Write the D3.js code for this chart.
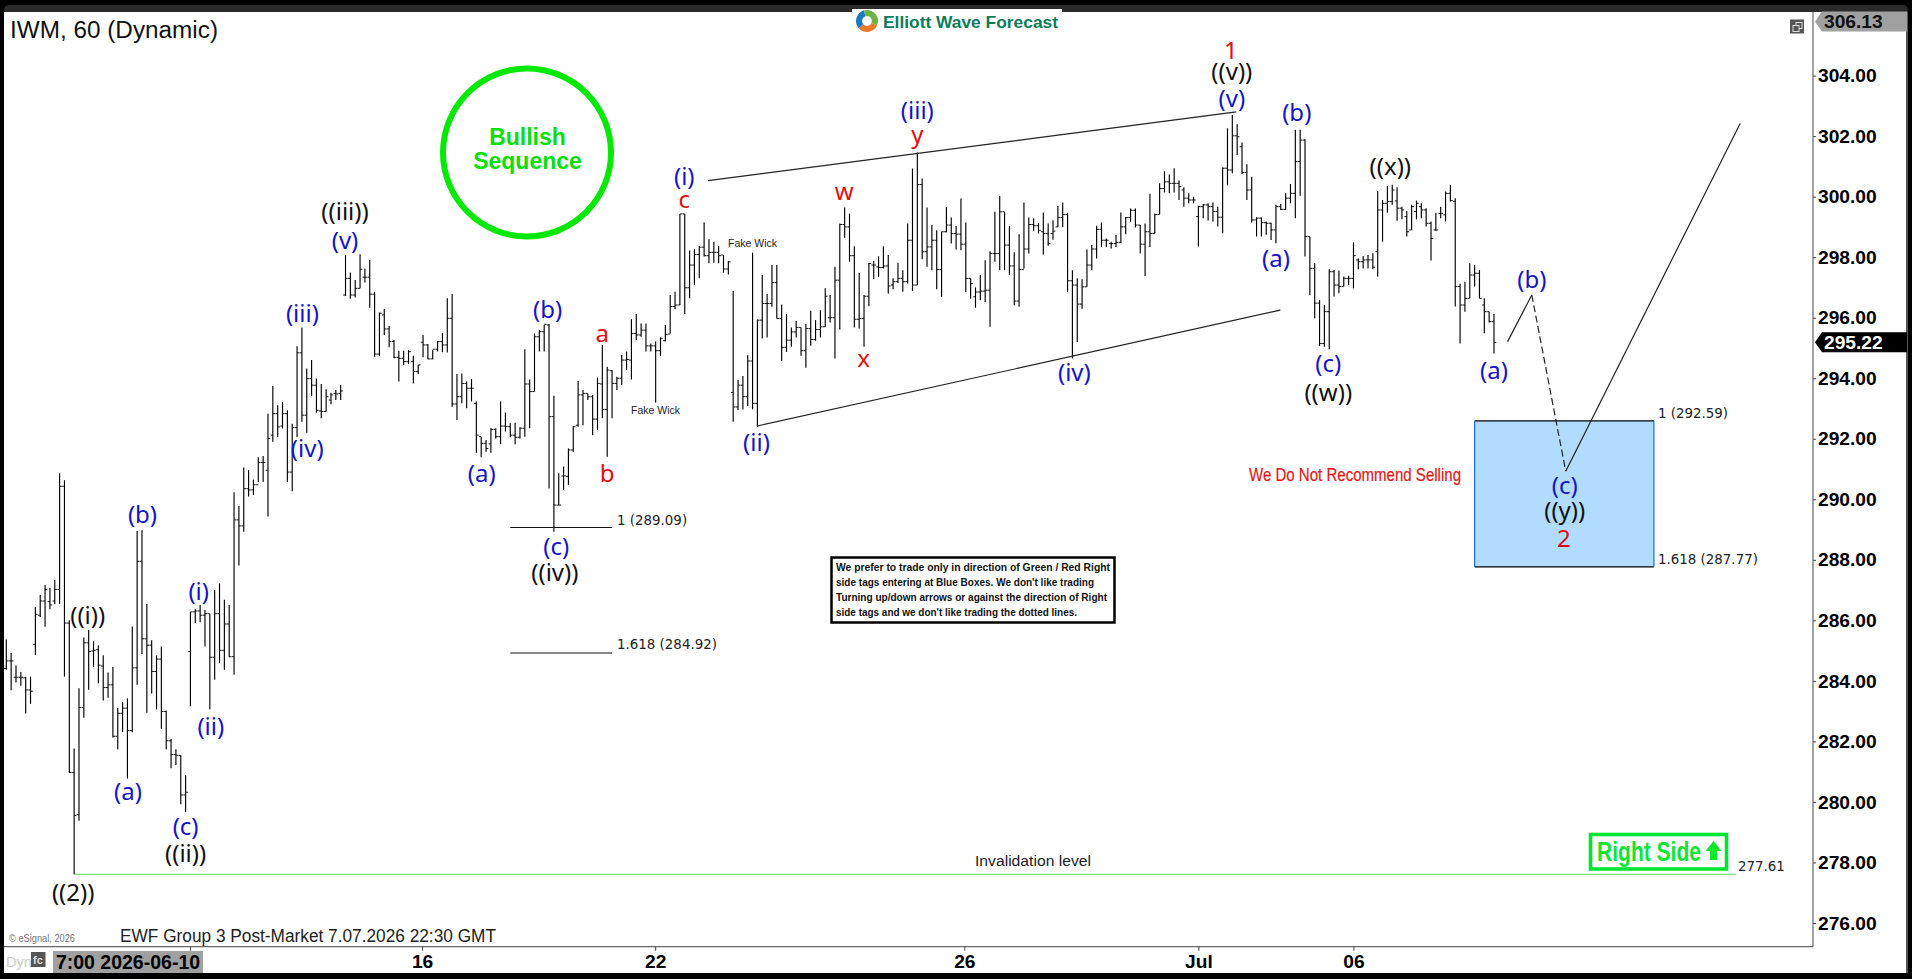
<!DOCTYPE html>
<html><head><meta charset="utf-8">
<script src="https://cdn.jsdelivr.net/npm/d3@7/dist/d3.min.js"></script>
<style>html,body{margin:0;padding:0;background:#000;overflow:hidden}svg{display:block}text{font-family:"Liberation Sans",Arial,sans-serif}</style>
</head><body><svg id="c" width="1912" height="979"></svg>
<script>
const symbolTitle = "IWM, 60 (Dynamic)";
const yTickValues = [276,278,280,282,284,286,288,290,292,294,296,298,300,302,304];
const xTickBars = [85.8,133.9,197.7,246,278];
const xTickLabels = ["16","22","26","Jul","06"];
const highs = [285.37,284.92,284.51,284.29,284.14,284.14,286.43,286.84,287.17,287.08,287.33,290.86,290.63,286.00,281.77,283.76,285.43,285.68,285.31,285.18,284.85,284.28,284.46,283.10,283.30,283.42,285.80,288.95,288.98,286.54,285.34,284.84,285.14,283.02,282.08,281.74,281.54,280.88,286.28,286.37,286.51,286.34,286.22,287.00,287.22,286.68,286.51,290.23,289.78,291.05,290.96,290.65,291.39,291.43,292.83,293.74,293.11,293.21,292.94,292.50,295.06,295.68,294.32,294.60,293.99,293.81,293.64,293.52,293.61,293.78,298.07,297.49,297.25,298.10,297.63,297.91,296.86,296.17,296.29,295.73,295.26,294.91,294.91,294.93,294.74,294.44,295.43,295.13,294.93,295.23,295.49,296.64,296.78,294.14,294.16,293.89,293.98,293.23,292.07,291.96,292.35,292.35,293.23,292.87,292.51,292.53,292.38,294.96,293.96,295.48,295.59,295.76,295.79,293.42,290.86,291.08,291.68,292.42,293.91,293.61,293.50,293.45,294.02,295.10,294.38,294.27,294.05,294.77,294.88,295.95,296.12,295.81,295.81,295.15,295.21,295.35,295.76,296.75,296.86,299.43,299.43,298.22,298.26,298.37,299.15,298.59,298.51,298.37,298.07,297.87,296.88,293.94,294.07,294.76,298.15,295.94,297.41,296.78,297.74,297.74,296.44,296.12,295.68,295.89,295.68,295.79,296.23,295.92,296.25,296.97,296.75,297.68,299.11,299.64,299.44,298.36,297.48,296.75,297.81,297.87,298.03,298.36,298.07,297.30,297.82,297.57,299.11,300.93,301.46,300.60,299.64,299.06,298.89,298.84,299.66,299.31,299.03,299.94,299.15,297.30,297.00,297.41,297.90,298.20,299.50,300.02,299.50,299.03,298.16,298.76,299.81,299.31,299.28,299.13,299.48,299.11,299.22,299.69,299.81,299.47,297.57,297.30,297.27,298.25,298.40,299.04,299.15,298.62,298.51,298.73,299.48,299.33,299.61,299.61,299.06,299.11,300.10,299.44,300.44,300.84,300.73,300.94,300.53,300.31,300.11,300.00,299.70,299.76,299.78,299.81,299.67,300.96,302.26,302.70,302.39,301.79,301.07,300.66,299.32,299.31,299.18,299.14,299.73,299.76,300.11,300.42,302.21,302.21,301.90,298.68,297.80,296.59,296.42,297.60,297.58,297.56,297.36,297.39,298.49,297.96,298.04,298.07,298.13,300.19,299.89,300.35,300.39,300.31,299.67,299.53,299.73,299.87,299.78,299.62,299.18,299.47,299.67,300.17,300.39,299.95,297.12,297.19,297.80,297.74,297.58,296.64,296.20,296.12];
const lows = [284.37,283.69,283.95,283.84,282.92,283.24,284.86,286.11,285.79,286.37,286.53,286.55,284.14,280.96,277.61,279.38,282.78,283.71,284.46,283.92,283.35,283.44,282.13,281.74,282.30,280.77,282.30,283.87,284.89,282.95,283.58,283.06,282.42,281.74,281.11,281.22,279.92,279.66,283.16,285.91,285.94,285.14,283.06,284.04,284.58,284.37,284.78,284.20,287.81,288.93,290.09,290.14,290.57,290.57,289.43,291.90,292.06,292.34,290.57,290.27,292.06,292.56,292.20,293.41,292.86,292.68,292.90,293.14,293.28,293.28,296.72,296.63,296.67,296.97,297.16,296.33,294.71,294.74,295.43,295.02,294.66,293.89,294.44,294.47,293.83,294.14,294.69,294.63,294.63,294.88,294.86,294.85,293.06,292.62,293.17,293.01,293.23,291.54,291.39,291.57,291.54,292.01,291.82,292.24,292.05,291.82,292.01,292.07,292.35,293.56,294.88,294.88,290.36,288.93,289.81,290.31,290.47,291.57,292.40,292.45,293.28,292.12,292.29,292.68,291.41,292.68,293.61,293.78,294.27,293.96,295.26,295.37,294.88,294.88,293.19,294.74,295.21,295.48,296.28,296.42,296.12,296.64,297.08,297.30,298.02,297.80,297.82,297.80,297.49,297.43,292.56,292.94,292.97,293.08,292.97,292.39,295.31,295.35,296.36,295.97,294.57,294.87,295.04,295.35,294.74,294.35,295.07,295.24,295.35,295.70,295.84,294.65,295.61,298.64,297.85,295.68,295.64,295.04,296.38,297.27,297.35,297.63,296.80,296.94,297.15,296.86,297.13,296.88,297.08,297.93,297.68,297.57,296.94,296.69,298.82,298.45,298.25,298.23,296.85,296.63,296.33,296.58,296.52,295.70,297.85,297.57,297.57,297.41,296.41,296.36,297.63,298.12,298.87,298.78,298.09,298.38,298.58,299.00,299.00,296.85,294.65,295.20,296.30,297.02,297.57,297.96,298.34,298.34,298.29,298.34,298.47,298.76,299.17,298.98,298.12,297.38,298.34,298.78,299.42,300.14,300.11,300.14,299.89,299.67,299.78,299.78,298.35,299.29,299.21,299.18,299.01,298.79,300.37,300.77,301.38,300.75,299.89,299.15,298.68,298.68,298.74,298.57,298.46,299.56,299.56,299.78,299.29,300.03,298.02,296.75,295.98,295.07,295.04,294.96,296.70,296.81,297.03,297.08,296.97,297.60,297.63,297.63,297.60,297.36,298.51,299.47,299.73,299.20,299.25,298.68,298.90,299.25,299.29,299.01,297.89,298.87,299.29,299.18,299.84,296.37,295.15,296.20,296.64,297.03,296.64,295.49,295.84,294.82];
const opens = [284.41,284.66,284.12,284.12,284.10,283.70,285.21,286.17,286.64,286.62,286.64,287.02,290.43,285.91,280.97,279.58,283.12,285.26,284.99,285.03,284.49,283.78,283.87,282.17,282.93,283.10,282.36,284.43,287.95,285.39,285.18,284.31,284.72,282.99,282.02,281.57,281.54,280.23,284.97,286.28,286.31,286.17,286.22,284.78,286.22,285.01,285.88,284.80,289.32,289.12,290.35,290.31,290.48,291.22,290.96,292.12,292.83,292.42,292.83,290.90,292.37,294.84,292.78,293.99,293.77,292.92,292.90,293.28,293.50,293.50,296.75,297.30,296.75,296.97,297.34,297.34,296.78,294.80,296.09,295.63,295.21,294.69,294.66,294.55,294.55,294.22,295.19,295.10,294.64,294.96,295.21,295.10,295.98,293.15,293.39,293.83,293.67,293.17,292.07,291.85,291.83,292.31,292.07,292.42,292.40,292.12,292.05,292.35,293.81,293.56,295.37,295.54,295.76,292.73,289.81,290.77,290.75,291.63,292.45,293.45,293.50,293.39,292.65,293.81,292.97,294.25,293.83,294.00,294.60,294.60,295.48,295.43,295.59,295.07,295.07,294.91,295.24,295.46,296.37,296.42,299.43,296.99,297.74,298.09,298.33,298.05,298.16,298.16,298.07,297.61,293.53,293.05,293.77,293.39,294.57,293.17,295.92,296.47,296.47,297.16,295.97,295.02,295.26,295.53,295.68,294.91,295.64,295.28,295.61,295.70,296.00,296.00,297.24,299.08,299.00,298.05,295.95,295.97,296.71,297.74,297.68,297.66,297.71,297.08,297.19,297.30,297.19,298.56,297.08,300.40,298.18,298.34,298.56,297.59,298.84,299.06,298.78,298.76,298.43,297.30,296.69,296.85,296.88,296.91,298.12,298.12,299.50,298.40,297.71,296.55,297.59,298.27,299.08,299.04,298.84,298.78,298.78,299.00,299.31,299.41,297.22,297.08,296.45,297.02,297.74,298.27,298.92,298.56,298.45,298.45,298.49,299.00,299.31,299.55,299.06,298.43,298.84,298.78,299.41,300.27,300.49,300.44,300.44,300.22,299.95,299.89,299.34,299.67,299.73,299.67,299.51,299.32,300.94,300.88,302.01,301.65,300.80,300.22,299.23,299.29,299.14,299.12,298.90,299.67,299.58,299.95,300.11,301.16,301.87,298.68,297.63,296.48,295.15,296.20,297.52,297.08,297.03,297.30,297.30,297.91,297.85,297.91,297.91,298.18,299.56,299.78,299.84,299.86,299.62,299.34,298.90,299.51,299.67,299.56,299.12,298.90,299.45,299.40,300.11,299.84,297.03,296.42,296.64,297.41,297.47,296.42,296.20,295.87];
const closes = [284.66,284.66,284.12,284.12,283.70,283.66,286.20,286.64,287.02,286.51,287.02,290.43,285.91,280.97,279.55,283.12,285.26,284.97,285.01,284.52,283.78,283.87,282.17,282.93,283.10,282.36,284.43,287.95,285.39,285.18,284.31,284.72,282.99,282.02,281.57,281.54,280.23,280.32,286.28,286.31,286.17,286.22,284.78,286.22,285.01,285.88,284.80,289.32,289.12,290.35,290.31,290.48,291.22,291.22,292.01,292.83,292.39,292.83,290.90,292.37,294.84,292.78,293.99,293.77,292.94,292.90,293.39,293.45,293.48,293.58,297.30,296.75,296.97,297.60,297.34,296.78,294.80,296.15,295.63,295.21,294.69,294.66,294.55,294.88,294.22,294.44,295.10,294.64,294.96,295.21,295.10,295.98,293.15,293.39,293.83,293.67,293.67,292.12,291.85,291.68,292.31,292.07,292.42,292.40,292.12,292.05,292.35,293.81,293.56,295.37,295.54,295.78,292.73,289.81,289.81,290.77,291.63,292.40,293.45,293.50,293.39,292.65,293.83,292.97,294.27,293.83,294.00,294.60,294.62,295.48,295.43,295.59,295.07,295.07,294.91,295.32,295.45,296.37,296.42,299.43,296.99,297.74,298.09,298.33,298.05,298.16,298.16,298.05,297.61,297.85,293.05,293.77,293.39,294.57,293.17,295.92,296.47,296.47,297.16,295.97,295.02,295.26,295.53,295.68,294.91,295.64,295.28,295.61,295.70,296.71,296.00,297.24,299.08,299.00,298.05,295.95,295.97,296.71,297.79,297.74,297.66,297.71,297.05,297.19,297.30,297.19,298.56,297.08,300.40,298.18,298.34,298.56,297.59,298.84,299.06,298.78,298.76,298.43,297.30,297.13,296.85,296.88,296.91,298.12,298.12,299.50,298.40,297.71,296.55,297.59,298.27,299.08,299.04,298.89,298.78,298.45,298.86,299.31,299.41,297.22,297.08,296.45,297.02,297.74,298.27,298.92,298.56,298.56,298.45,298.49,299.00,299.31,299.55,299.06,298.43,298.84,298.78,299.41,300.27,300.49,300.44,300.44,300.33,299.95,299.89,299.89,299.67,299.73,299.67,299.51,299.32,300.94,300.88,302.01,301.98,300.80,300.22,299.23,299.29,299.14,299.12,298.90,299.67,299.58,299.95,300.11,301.16,301.87,298.68,297.63,296.48,295.15,296.20,297.52,297.08,297.03,297.30,297.30,298.05,297.85,297.91,297.91,297.67,299.56,299.78,299.84,300.22,299.62,299.56,298.84,299.67,299.78,299.56,299.12,298.62,298.90,299.45,300.11,299.87,297.03,296.42,296.64,297.41,297.47,296.64,296.20,295.87,295.18];
const waveBlue = [["(b)",28.1,289.53],["(a)",25.1,280.38],["(c)",37,279.21],["(i)",39.7,286.99],["(ii)",42.2,282.52],["(iii)",61.1,296.18],["(iv)",62.1,291.71],["(v)",69.9,298.60],["(a)",98.1,290.90],["(b)",111.7,296.30],["(c)",113.5,288.48],["(i)",139.9,300.69],["(ii)",154.8,291.91],["(iii)",188,302.87],["(iv)",220.4,294.21],["(v)",252.9,303.27],["(a)",262,297.99],["(b)",266.3,302.83],["(c)",272.8,294.53],["(a)",307,294.29],["(b)",314.8,297.31],["(c)",321.6,290.50]];
const waveBlack = [["((i))",16.8,286.19],["((ii))",37,278.33],["((2))",13.8,277.04],["((iii))",69.9,299.53],["((iv))",113.2,287.60],["((v))",252.9,304.16],["((w))",272.8,293.56],["((x))",285.6,301.02],["((y))",321.6,289.65]];
const waveRed = [["a",123,295.50],["b",124,290.90],["c",139.9,299.93],["w",172.9,300.21],["x",176.9,294.69],["y",188,302.10],["1",252.7,304.85],["2",321.4,288.73]];
const wedgeLines = [[[144.8,300.53],[253.8,302.80]],[[154.9,292.42],[262.9,296.25]]];
const projectionSolidA = [[309.8,295.21],[314.8,296.75]];
const projectionDashed = [[314.8,296.75],[321.8,290.93]];
const projectionSolidB = [[321.8,290.93],[357.8,302.42]];
const fibLevels = [[104,125,289.07,"1 (289.09)"],[104,125,284.92,"1.618 (284.92)"]];
const blueBox = {x0:303,x1:340,top:292.59,bottom:287.77,topLabel:"1 (292.59)",bottomLabel:"1.618 (287.77)"};
const invalidation = {x0:14,x1:357,price:277.61,label:"277.61",title:"Invalidation level"};
const noteLines = ["We prefer to trade only in direction of Green / Red Right","side tags entering at Blue Boxes. We don't like trading","Turning up/down arrows or against the direction of Right","side tags and we don't like trading the dotted lines."];
const lastPrice = 295.22, topPrice = 306.13;

const W=1912,H=979, svg=d3.select("#c");
const x=d3.scaleLinear().domain([0,307]).range([6.3,1494]);
const y=d3.scaleLinear().domain([276,304]).range([923,75.6]);
const axisX=1813, axisY=946.7;

svg.append("rect").attr("width",W).attr("height",H).attr("fill","#000");
svg.append("rect").attr("x",4).attr("y",5).attr("width",1904).attr("height",10).attr("rx",5).attr("fill","#2a2a2a");
svg.append("rect").attr("x",4).attr("y",12).attr("width",1903).attr("height",961).attr("fill","#fff");
svg.append("rect").attr("x",1906).attr("y",12).attr("width",2).attr("height",961).attr("fill","#555");

// blue box
svg.append("rect").attr("x",x(blueBox.x0)).attr("y",y(blueBox.top)).attr("width",x(blueBox.x1)-x(blueBox.x0)).attr("height",y(blueBox.bottom)-y(blueBox.top)).attr("fill","#b2dcff").attr("stroke","none");
[[blueBox.top],[blueBox.bottom]].forEach(p=>svg.append("line").attr("x1",x(blueBox.x0)).attr("x2",x(blueBox.x1)).attr("y1",y(p[0])).attr("y2",y(p[0])).attr("stroke","#000").attr("stroke-width",1.2));
[blueBox.x0,blueBox.x1].forEach(b=>svg.append("line").attr("x1",x(b)).attr("x2",x(b)).attr("y1",y(blueBox.top)).attr("y2",y(blueBox.bottom)).attr("stroke","#1a6fc0").attr("stroke-width",1.2));

// invalidation
svg.append("line").attr("x1",x(invalidation.x0)).attr("x2",x(invalidation.x1)).attr("y1",y(invalidation.price)).attr("y2",y(invalidation.price)).attr("stroke","#55e055").attr("stroke-width",1.2);
svg.append("text").attr("x",1033).attr("y",860).attr("text-anchor","middle").attr("dominant-baseline","central").attr("font-size",15.5).attr("fill","#222").attr("textLength",116).attr("lengthAdjust","spacingAndGlyphs").text(invalidation.title);
svg.append("text").attr("x",1738).attr("y",866).attr("dominant-baseline","central").style("font-family","DejaVu Sans").attr("font-size",13.4).attr("fill","#222").text(invalidation.label);

// bars
const bars=svg.append("g").attr("stroke","#000").attr("fill","none");
const idx=d3.range(highs.length);
bars.selectAll("line.v").data(idx).join("line").attr("class","v").attr("x1",i=>x(i)).attr("x2",i=>x(i)).attr("y1",i=>y(highs[i])).attr("y2",i=>y(lows[i])).attr("stroke-width",1.15);
bars.selectAll("line.o").data(idx).join("line").attr("class","o").attr("x1",i=>x(i)-2.3).attr("x2",i=>x(i)).attr("y1",i=>y(opens[i])).attr("y2",i=>y(opens[i])).attr("stroke-width",0.9);
bars.selectAll("line.c").data(idx).join("line").attr("class","c").attr("x1",i=>x(i)).attr("x2",i=>x(i)+2.3).attr("y1",i=>y(closes[i])).attr("y2",i=>y(closes[i])).attr("stroke-width",0.9);

// lines
const ln=d3.line().x(d=>x(d[0])).y(d=>y(d[1]));
wedgeLines.forEach(l=>svg.append("path").attr("d",ln(l)).attr("fill","none").attr("stroke","#222").attr("stroke-width",1.2));
svg.append("path").attr("d",ln(projectionSolidA)).attr("fill","none").attr("stroke","#222").attr("stroke-width",1.2);
svg.append("path").attr("d",ln(projectionDashed)).attr("fill","none").attr("stroke","#222").attr("stroke-width",1.2).attr("stroke-dasharray","7,3.5");
svg.append("path").attr("d",ln(projectionSolidB)).attr("fill","none").attr("stroke","#222").attr("stroke-width",1.2);

// fib
fibLevels.forEach(f=>{
  svg.append("line").attr("x1",x(f[0])).attr("x2",x(f[1])).attr("y1",y(f[2])).attr("y2",y(f[2])).attr("stroke","#111").attr("stroke-width",1.1);
  svg.append("text").attr("x",x(f[1])+5).attr("y",y(f[2])-(f[3][0]==="1"&&f[3][1]===" "?7:9)).attr("dominant-baseline","central").style("font-family","DejaVu Sans").attr("font-size",13.4).attr("fill","#222").text(f[3]);
});
[[blueBox.top,blueBox.topLabel,-7],[blueBox.bottom,blueBox.bottomLabel,-7]].forEach(f=>svg.append("text").attr("x",1658).attr("y",y(f[0])+f[2]).attr("dominant-baseline","central").style("font-family","DejaVu Sans").attr("font-size",13.4).attr("fill","#222").text(f[1]));

// wave labels
function labels(data,col){svg.append("g").selectAll("text").data(data).join("text").attr("x",d=>x(d[1])).attr("y",d=>y(d[2])).attr("text-anchor","middle").attr("dominant-baseline","central").attr("font-size",24).style("font-family","Noto Sans").attr("fill",col).text(d=>d[0]);}
labels(waveBlue,"#1414c8");labels(waveBlack,"#111");labels(waveRed,"#e01010");

// fake wick
[655.5,752.5].forEach((cx,k)=>svg.append("text").attr("x",cx).attr("y",k?243:410).attr("text-anchor","middle").attr("dominant-baseline","central").attr("font-size",10.5).attr("fill","#222").text("Fake Wick"));

// bullish
const green="#06e806";
svg.append("circle").attr("cx",527).attr("cy",152.5).attr("r",84).attr("fill","none").attr("stroke",green).attr("stroke-width",6);
[["Bullish",136.5],["Sequence",161]].forEach(t=>svg.append("text").attr("x",527.5).attr("y",t[1]).attr("text-anchor","middle").attr("dominant-baseline","central").attr("font-weight","bold").attr("font-size",23).attr("fill","#08e008").text(t[0]));

// recommend
svg.append("text").attr("x",1249).attr("y",474).attr("dominant-baseline","central").attr("font-size",18.5).attr("fill","#e01818").attr("stroke","#e01818").attr("stroke-width",0.2).attr("textLength",212).attr("lengthAdjust","spacingAndGlyphs").text("We Do Not Recommend Selling");

// note
svg.append("rect").attr("x",831.5).attr("y",557.5).attr("width",283).attr("height",65).attr("fill","#fff").attr("stroke","#000").attr("stroke-width",2.5);
const lens=[274,258,271,241],base=[571,586,601,615.5];
noteLines.forEach((l,i)=>svg.append("text").attr("x",836).attr("y",base[i]).attr("font-weight","bold").attr("font-size",11.5).attr("fill","#111").attr("textLength",lens[i]).attr("lengthAdjust","spacingAndGlyphs").text(l));

// right side
svg.append("rect").attr("x",1590.5).attr("y",834.5).attr("width",136).attr("height",34.5).attr("fill","#fff").attr("stroke","#00e632").attr("stroke-width",3.6);
svg.append("text").attr("x",1597).attr("y",852).attr("dominant-baseline","central").attr("font-weight","bold").attr("font-size",27).attr("fill","#0ee632").attr("textLength",104).attr("lengthAdjust","spacingAndGlyphs").text("Right Side");
svg.append("path").attr("d","M1713.5,841 L1721.5,851 L1717,851 L1717,860 L1710,860 L1710,851 L1705.5,851 Z").attr("fill","#0ee632");

// axes
svg.append("line").attr("x1",axisX).attr("x2",axisX).attr("y1",12).attr("y2",axisY).attr("stroke","#666").attr("stroke-width",1.2);
svg.append("line").attr("x1",4).attr("x2",axisX).attr("y1",axisY).attr("y2",axisY).attr("stroke","#666").attr("stroke-width",1.2);
const ya=d3.axisRight(y).tickValues(yTickValues).tickFormat(d3.format(".2f")).tickSize(3).tickPadding(2);
const yg=svg.append("g").attr("transform",`translate(${axisX},0)`).call(ya);
yg.select(".domain").remove();
yg.selectAll("line").attr("stroke","#444");
yg.selectAll("text").attr("font-size",19.2).attr("font-weight","bold").attr("fill","#000").style("font-family","Liberation Sans");
const xa=d3.axisBottom(x).tickValues(xTickBars).tickFormat((d,i)=>xTickLabels[i]).tickSize(4).tickPadding(4);
const xg=svg.append("g").attr("transform",`translate(0,${axisY})`).call(xa);
xg.select(".domain").remove();
xg.selectAll("line").attr("stroke","#444");
xg.selectAll("text").attr("font-size",19.2).attr("font-weight","bold").attr("fill","#000").style("font-family","Liberation Sans");
svg.append("line").attr("x1",190.6).attr("x2",190.6).attr("y1",axisY).attr("y2",axisY+4).attr("stroke","#444");

// price tags
function tag(py,fill,tc,val){
  svg.append("path").attr("d",`M1815,${py} L1822,${py-10} L1907,${py-10} L1907,${py+10} L1822,${py+10} Z`).attr("fill",fill);
  svg.append("text").attr("x",1824).attr("y",py).attr("dominant-baseline","central").attr("font-size",19.2).attr("font-weight","bold").attr("fill",tc).text(val.toFixed(2));
}
tag(21.5,"#a0a0a0","#111",topPrice);
tag(y(lastPrice)+1,"#000","#fff",lastPrice);

// restore icon
svg.append("rect").attr("x",1790).attr("y",19.5).attr("width",14).attr("height",14).attr("fill","#555");
svg.append("rect").attr("x",1796).attr("y",22.5).attr("width",6).attr("height",6).attr("fill","none").attr("stroke","#ddd");
svg.append("rect").attr("x",1793).attr("y",25.5).attr("width",6).attr("height",6).attr("fill","#555").attr("stroke","#ddd");

// title etc.
svg.append("text").attr("x",10).attr("y",30).attr("dominant-baseline","central").attr("font-size",23).attr("fill","#111").attr("textLength",208).attr("lengthAdjust","spacingAndGlyphs").text(symbolTitle);
svg.append("text").attr("x",120).attr("y",936).attr("dominant-baseline","central").attr("font-size",17.5).attr("fill","#222").attr("textLength",376).attr("lengthAdjust","spacingAndGlyphs").text("EWF Group 3 Post-Market 7.07.2026 22:30 GMT");
svg.append("text").attr("x",9).attr("y",938).attr("dominant-baseline","central").attr("font-size",10.5).attr("fill","#777").attr("textLength",66).attr("lengthAdjust","spacingAndGlyphs").text("© eSignal, 2026");
svg.append("text").attr("x",6).attr("y",962).attr("dominant-baseline","central").attr("font-size",14.5).attr("fill","#ccc").text("Dyn");
svg.append("rect").attr("x",31).attr("y",952).attr("width",14.5).attr("height",15).attr("fill","#555");
svg.append("text").attr("x",38).attr("y",960).attr("text-anchor","middle").attr("dominant-baseline","central").attr("font-size",11).attr("font-weight","bold").attr("fill","#ddd").text("fc");
svg.append("rect").attr("x",53).attr("y",951).attr("width",150).attr("height",22).attr("fill","#a0a0a0");
svg.append("text").attr("x",128).attr("y",962).attr("text-anchor","middle").attr("dominant-baseline","central").attr("font-size",19.5).attr("font-weight","bold").attr("fill","#000").text("7:00 2026-06-10");

// logo
svg.append("rect").attr("x",852).attr("y",9).attr("width",210).attr("height",10).attr("fill","#fff");
svg.append("text").attr("x",883).attr("y",22).attr("dominant-baseline","central").attr("font-weight","bold").attr("font-size",16.5).attr("fill","#0b7d5b").attr("textLength",175).attr("lengthAdjust","spacingAndGlyphs").text("Elliott Wave Forecast");
const arc=d3.arc().innerRadius(5).outerRadius(11);
[["#6cb33f",-0.3,2.0],["#e8782a",2.0,4.0],["#1f77c0",4.0,5.98]].forEach(a=>svg.append("path").attr("transform","translate(867,21)").attr("d",arc({startAngle:a[1],endAngle:a[2]})).attr("fill",a[0]));
</script></body></html>
